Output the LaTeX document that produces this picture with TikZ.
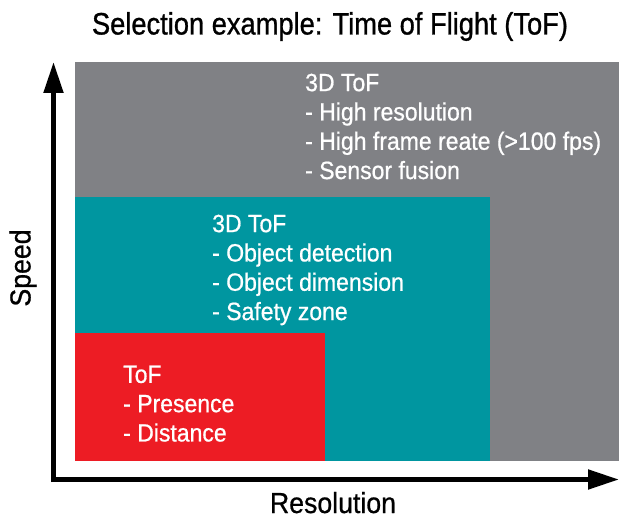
\documentclass[tikz,border=0pt]{standalone}
\usepackage{fontspec}
\setmainfont{Liberation Sans}
\newfontfamily\titlefont[FakeStretch=0.88,FakeBold=0.9]{Liberation Sans}
\newfontfamily\bodyfont[FakeStretch=0.92,FakeBold=0.7]{Liberation Sans}
\usetikzlibrary{arrows.meta}
\definecolor{tofgray}{RGB}{128,129,133}
\definecolor{tofteal}{RGB}{0,150,160}
\definecolor{tofred}{RGB}{237,28,36}
\tikzset{
  boxtext/.style={anchor=north west, align=left, text=white, inner sep=0pt,
    font=\bodyfont\fontsize{25}{29.3}\selectfont},
  axislabel/.style={font=\bodyfont\fontsize{29}{31}\selectfont, inner sep=0pt},
  axis/.style={line width=5pt, -{Triangle[length=31pt,width=19pt]}}
}
\begin{document}
\begin{tikzpicture}[x=1pt,y=-1pt]
\useasboundingbox (0,0) rectangle (619,521);
% regions
\fill[tofgray] (75,62) rectangle (619,461);
\fill[tofteal] (75,197) rectangle (490,461);
\fill[tofred] (75,333) rectangle (325,461);
% title
\node[font=\titlefont\fontsize{31}{33}\selectfont, anchor=base, inner sep=0pt] (title) at (330,34.5) {Selection example: Time of Flight (ToF)};
% texts
\node[boxtext] (graytext) at (305,73.5) {3D ToF\\- High resolution\\- High frame reate (>100 fps)\\- Sensor fusion};
\node[boxtext] (tealtext) at (212,214.5) {3D ToF\\- Object detection\\- Object dimension\\- Safety zone};
\node[boxtext] (redtext) at (123,365.5) {ToF\\- Presence\\- Distance};
% axes
\coordinate (origin) at (53.5,479.5);
\coordinate (ytip) at (53.5,62);
\coordinate (xtip) at (619,479.5);
\draw[axis] (origin) ++(0,2.5) -- (ytip);
\draw[axis] (origin) ++(-2.5,0) -- (xtip);
\node[axislabel, anchor=base, rotate=90] (speed) at (30.5,268) {Speed};
\node[axislabel, anchor=base] (resolution) at (333,513) {Resolution};
\end{tikzpicture}
\end{document}
